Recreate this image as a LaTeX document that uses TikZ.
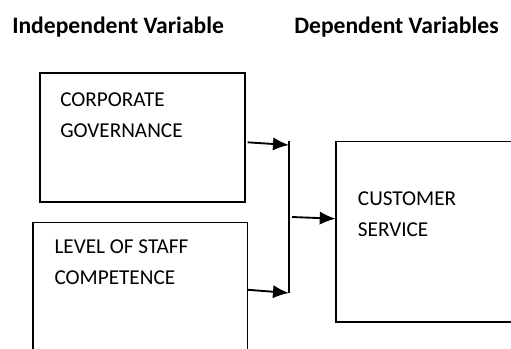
\documentclass[tikz,border=0pt]{standalone}
\usepackage{fontspec}
\setmainfont{Carlito}
\usetikzlibrary{arrows.meta, positioning, calc}

\begin{document}
\begin{tikzpicture}[
    x=0.75pt, y=-0.75pt,
    title/.style={anchor=north west, inner sep=0pt, font=\fontsize{17.7}{20}\selectfont\bfseries},
    varbox/.style={rectangle, draw, line width=1pt},
    openbox/.style={rectangle, draw=none},
    boxline/.style={line width=1.15pt},
    boxtext/.style={anchor=north west, inner sep=0pt, align=left, font=\fontsize{15.9}{23.3}\selectfont},
    arrow/.style={-{Latex[length=12pt, width=10pt]}, line width=1.4pt}
]
    \useasboundingbox (0,0) rectangle (511,349);

    % Headings
    \node[title] (indep) at (12,17) {Independent Variable};
    \node[title] (dep) at (294,17) {Dependent Variables};

    % Boxes (the lower left and the right one run off the page)
    \node[varbox, minimum width=153.75pt, minimum height=96.75pt] (corp) at (142.5,137.5) {};
    \node[openbox, minimum width=160.5pt, minimum height=94.5pt] (staff) at (140,286) {};
    \node[openbox, minimum width=131.25pt, minimum height=135pt] (cust) at (423.5,232) {};
    \draw[boxline] (staff.south west) -- (staff.north west) -- (staff.north east) -- (staff.south east);
    \draw[boxline] (cust.north east) -- (cust.north west) -- (cust.south west) -- (cust.south east);

    \node[boxtext] (corp_txt) at (60,92.7) {CORPORATE\\GOVERNANCE};
    \node[boxtext] (staff_txt) at (54.3,239.3) {LEVEL OF STAFF\\COMPETENCE};
    \node[boxtext] (cust_txt) at (357.7,191.7) {CUSTOMER\\SERVICE};

    % Joining bar
    \coordinate (bar_top) at (289,141);
    \coordinate (bar_bot) at (289,293);
    \coordinate (in_corp) at (289,145);
    \coordinate (in_staff) at (289,293);
    \draw[line width=1.1pt] (bar_top) -- (bar_bot);

    % Arrows
    \draw[arrow] ($(corp.north east)+(2,70)$) -- (in_corp);
    \draw[arrow] ($(staff.north east)+(0,67)$) -- (in_staff);
    \draw[arrow] (292,217) -- ($(cust.north west)+(0,77)$);
\end{tikzpicture}
\end{document}
